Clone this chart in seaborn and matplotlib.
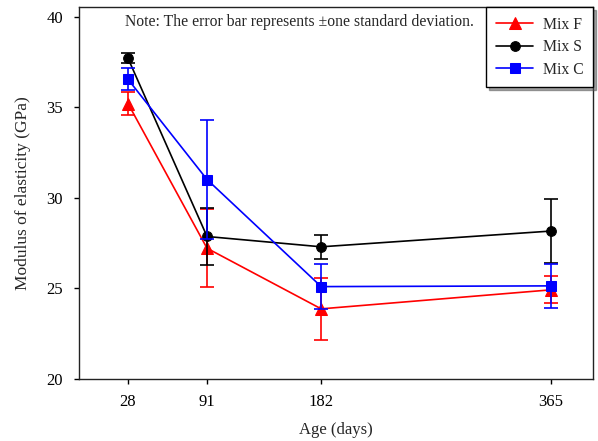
import matplotlib
matplotlib.use("Agg")
import matplotlib.pyplot as plt
import matplotlib.transforms as mtrans
import seaborn as sns
import pandas as pd

ages = [28, 91, 182, 365]
series = ["Mix F", "Mix S", "Mix C"]
mix_f = [35.2, 27.2, 23.85, 24.9]
mix_f_sd = [0.66, 2.15, 1.7, 0.75]
mix_s = [37.7, 27.85, 27.28, 28.15]
mix_s_sd = [0.27, 1.6, 0.67, 1.77]
mix_c = [36.54, 31.0, 25.08, 25.12]
mix_c_sd = [0.6, 3.3, 1.26, 1.23]

colors = {"Mix F": "#ff0000", "Mix S": "#000000", "Mix C": "#0000ff"}
markers = {"Mix F": "^", "Mix S": "o", "Mix C": "s"}

sns.set_style("ticks")
plt.rcParams["font.family"] = ["Liberation Serif", "DejaVu Serif"]

rows = []
for name, vals, sds in [("Mix F", mix_f, mix_f_sd), ("Mix S", mix_s, mix_s_sd), ("Mix C", mix_c, mix_c_sd)]:
    for a, v, s in zip(ages, vals, sds):
        rows.append({"Age": a, "E": v, "sd": s, "Mix": name})
df = pd.DataFrame(rows)

fig = plt.figure(figsize=(5.98, 4.41), dpi=100)
ax = fig.add_axes([79 / 598, 1 - 378.5 / 441, (593 - 79) / 598, (378.5 - 7.3) / 441])

for i, name in enumerate(series):
    sub = df[df["Mix"] == name]
    ax.errorbar(sub["Age"], sub["E"], yerr=sub["sd"], fmt="none", ecolor=colors[name],
                elinewidth=1.2, capsize=4.8, capthick=1.2, zorder=2 + i)
    sns.lineplot(data=sub, x="Age", y="E", color=colors[name], marker=markers[name],
                 markersize=8 if name == "Mix F" else 7, markeredgecolor=colors[name],
                 linewidth=1.2, label=name, ax=ax, zorder=2 + i, errorbar=None)

ax.set_xlim(-11.07, 398.7)
ax.set_ylim(20, 40.52)
ax.set_xticks(ages)
ax.set_xticklabels([str(a) for a in ages])
ax.set_yticks([20, 25, 30, 35, 40])
ax.tick_params(axis="both", direction="out", length=3.6, width=1, labelsize=12, colors="black")
ax.tick_params(axis="x", pad=7.5)
ax.tick_params(axis="y", pad=8)
for sp in ax.spines.values():
    sp.set_linewidth(1.0)
    sp.set_color("#222222")

ax.set_xlabel("Age (days)", fontsize=12, labelpad=9)
ax.set_ylabel("Modulus of elasticity (GPa)", fontsize=12.5, labelpad=11)

note = ax.text(125, 441 - 26, "Note: The error bar represents \u00b1one standard deviation.",
               fontsize=11.3, va="baseline", ha="left")
note.set_transform(mtrans.IdentityTransform())

leg = ax.legend(loc="upper right", borderaxespad=0, frameon=True, fancybox=False,
                shadow=True, fontsize=11.3, handlelength=2.4, borderpad=0.6,
                labelspacing=0.42, handletextpad=0.6)
leg.get_frame().set_edgecolor("black")
leg.get_frame().set_linewidth(1.0)

fig.savefig("out.png", dpi=100)
